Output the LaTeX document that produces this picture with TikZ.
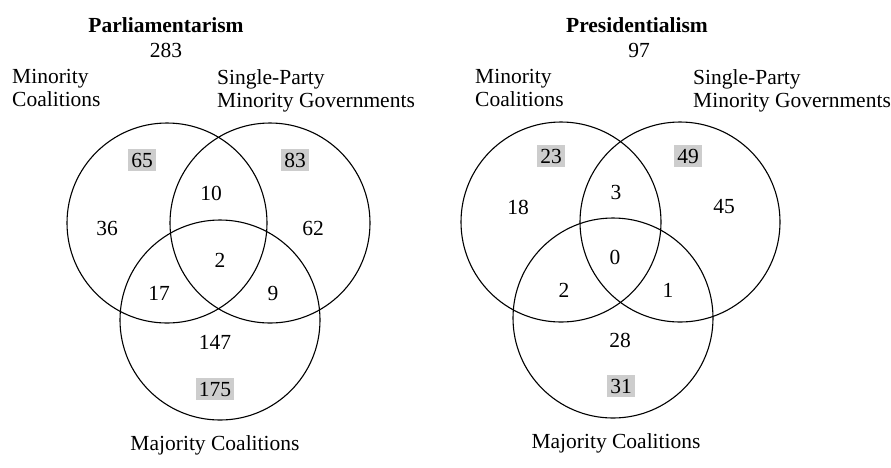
\documentclass[tikz,border=0pt]{standalone}
\usepackage{fontspec}
\setmainfont{Liberation Serif}
\definecolor{shadegray}{RGB}{205,205,205}
\begin{document}
\begin{tikzpicture}[x=1pt,y=-1pt,
  every node/.style={font=\fontsize{21.5}{23}\selectfont},
  ring/.style={circle,draw,line width=1.1pt,minimum size=200pt,inner sep=0pt},
  num/.style={inner sep=0pt},
  hi/.style={fill=shadegray,inner xsep=3pt,inner ysep=3.5pt},
  ttl/.style={font=\fontsize{21.5}{23}\selectfont\bfseries},
  lbl/.style={anchor=north west,align=left,inner sep=0pt}]
\useasboundingbox (0,0) rectangle (891,467);
% ---------- Parliamentarism ----------
\node[ring] (pA) at (167,223) {};
\node[ring] (pB) at (270,223) {};
\node[ring] (pC) at (220,320) {};
\node[ttl] (pT) at (166,25) {Parliamentarism};
\node[num] (pN) at (166,50) {283};
\node[lbl] (pLA) at (12,69) {Minority\\Coalitions};
\node[lbl] (pLB) at (217,69) {Single-Party\\Minority Governments};
\node (pLC) at (215,445) {Majority Coalitions};
\node[num,hi] (p65) at (142,160) {65};
\node[num,hi] (p83) at (295,160) {83};
\node[num] (p10) at (211,193) {10};
\node[num] (p36) at (107,228) {36};
\node[num] (p62) at (313,228) {62};
\node[num] (p2) at (220,260) {2};
\node[num] (p17) at (159,293) {17};
\node[num] (p9) at (273,293) {9};
\node[num] (p147) at (215,342) {147};
\node[num,hi] (p175) at (215,389) {175};
% ---------- Presidentialism ----------
\node[ring] (rA) at (561,222) {};
\node[ring] (rB) at (680,222) {};
\node[ring] (rC) at (613,318) {};
\node[ttl] (rT) at (637,25) {Presidentialism};
\node[num] (rN) at (639,50) {97};
\node[lbl] (rLA) at (475,69) {Minority\\Coalitions};
\node[lbl] (rLB) at (693,69) {Single-Party\\Minority Governments};
\node (rLC) at (616,443) {Majority Coalitions};
\node[num,hi] (r23) at (551,156) {23};
\node[num,hi] (r49) at (688,156) {49};
\node[num] (r3) at (616,192) {3};
\node[num] (r18) at (518,207) {18};
\node[num] (r45) at (724,207) {45};
\node[num] (r0) at (615,257) {0};
\node[num] (r2) at (564,290) {2};
\node[num] (r1) at (668,290) {1};
\node[num] (r28) at (620,340) {28};
\node[num,hi] (r31) at (621,386) {31};
\end{tikzpicture}
\end{document}
